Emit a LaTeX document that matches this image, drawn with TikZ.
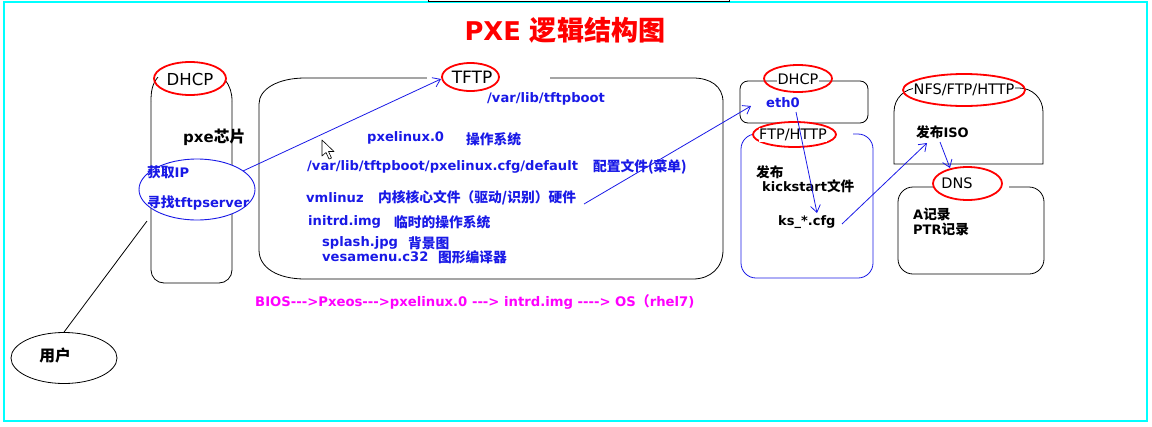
\documentclass[tikz,border=0pt]{standalone}
\usepackage{fontspec}
\setmainfont{DejaVu Sans}
\newfontfamily\cjk[Scale=1.05]{Noto Sans CJK SC}
\newcommand\zhtxt[1]{{\cjk #1}}
\usetikzlibrary{arrows.meta,shapes.geometric}
\definecolor{tblue}{RGB}{25,25,230}
\definecolor{mag}{RGB}{255,0,255}
\definecolor{cyanb}{RGB}{0,255,255}
\begin{document}
\begin{tikzpicture}[x=1pt,y=-1pt,
  every node/.style={inner sep=0pt},
  bt/.style={text=tblue, font=\bfseries\fontsize{13.1}{15}\selectfont, anchor=west},
  kt/.style={text=black, font=\bfseries\fontsize{13}{15}\selectfont, anchor=west},
  lbl/.style={text=black, font=\fontsize{14.5}{16}\selectfont, fill=white, inner sep=0.6pt},
  redell/.style={ellipse, draw=red, line width=1.8pt},
  thinbox/.style={draw=black, line width=0.8pt},
  arr/.style={draw=tblue, line width=0.8pt, -{Straight Barb[length=7pt,width=10pt,line width=0.8pt]}},
  mask/.style={fill=white, draw=none}
]
\useasboundingbox (0,0) rectangle (1152,426);
% frame
\draw[cyanb, line width=2pt] (4,2) rectangle (1147,421);
\draw[black, line width=1pt] (428,-3) rectangle (729,1.2);
% title
\node[text=red, font=\bfseries\fontsize{25.8}{30}\selectfont] (title) at (565,30) {PXE \zhtxt{逻辑结构图}};

% ---------- left DHCP cylinder ----------
\draw[thinbox, rounded corners=13pt] (151,101) -- (151,283) -- (232,283) -- (232,101);
\draw[thinbox] (158,77) .. controls (152,84) and (151,92) .. (151,101);
\draw[thinbox] (225,80) .. controls (230,86) and (232,93) .. (232,101);
\node[redell, minimum width=72pt, minimum height=33pt] (dhcpL) at (190,78.5) {};
\node[lbl, font=\fontsize{16.5}{18}\selectfont] (dhcpLt) at (190,79) {DHCP};
\node[kt, font=\bfseries\fontsize{15}{17}\selectfont] (pxe) at (183,137) {pxe\zhtxt{芯片}};
\node[ellipse, draw=tblue, line width=0.9pt, fill=white, minimum width=116pt, minimum height=61pt] (ipell) at (197,189.5) {};
\node[bt] (getip) at (147,172) {\zhtxt{获取}IP};
\node[bt] (findtftp) at (147,203) {\zhtxt{寻找}tftpserver};
% user
\node[ellipse, draw=black, line width=0.8pt, minimum width=106pt, minimum height=51pt] (user) at (64,358) {};
\node[text=black, font=\bfseries\fontsize{15}{17}\selectfont] (usert) at (55,356) {\zhtxt{用户}};
\coordinate (ipbot) at (147,221);
\draw[thinbox] (ipbot) -- (user.north);

% ---------- TFTP box ----------
\draw[thinbox] (305,78) -- (693,78) .. controls (710,78) and (723,86) .. (723,102)
  -- (723,250) .. controls (723,268) and (710,279) .. (693,279)
  -- (305,279) .. controls (278,279) and (259,268) .. (259,250)
  -- (259,104) .. controls (259,89) and (278,78) .. (305,78) -- cycle;
\fill[mask] (427,70) rectangle (550,86);
\node[redell, minimum width=57pt, minimum height=28pt] (tftpE) at (470.5,77) {};
\node[text=black, font=\fontsize{17}{19}\selectfont] (tftpt) at (472,77) {TFTP};
\node[bt] (t1) at (487,99) {/var/lib/tftpboot};
\node[bt] (t2) at (367,138) {pxelinux.0};
\node[bt] (t2b) at (466,139) {\zhtxt{操作系统}};
\node[bt] (t3) at (307,167) {/var/lib/tftpboot/pxelinux.cfg/default};
\node[bt] (t3b) at (593,167) {\zhtxt{配置文件(菜单)}};
\node[bt] (t4) at (306,198) {vmlinuz};
\node[bt] (t4b) at (378,198) {\zhtxt{内核核心文件（驱动/识别）硬件}};
\node[bt] (t5) at (308,222) {initrd.img};
\node[bt] (t5b) at (394,222) {\zhtxt{临时的操作系统}};
\node[bt] (t6) at (322,243) {splash.jpg};
\node[bt] (t6b) at (408,243) {\zhtxt{背景图}};
\node[bt] (t7) at (322,257) {vesamenu.c32};
\node[bt] (t7b) at (438,257) {\zhtxt{图形编译器}};
% mouse cursor
\draw[black, fill=white, line width=0.6pt, line join=round] (322,140) -- (322,156) -- (326,152.5) -- (329,159) -- (331.5,158) -- (328.5,151.5) -- (334,151.5) -- cycle;

% boot chain
\node[text=mag, font=\bfseries\fontsize{13.2}{15}\selectfont, anchor=west] (chain) at (255,302)
  {BIOS-{}-{}->Pxeos-{}-{}->pxelinux.0 -{}-{}-> intrd.img -{}-{}-{}-> OS\zhtxt{（}rhel7)};

% ---------- right DHCP ----------
\draw[thinbox, rounded corners=8pt] (740,81) rectangle (868,123);
\node[redell, minimum width=68pt, minimum height=27pt] (dhcpR) at (798,78.5) {};
\node[lbl] (dhcpRt) at (798,79) {DHCP};
\node[bt] (eth) at (766,103) {eth0};

% ---------- FTP/HTTP ----------
\draw[draw=tblue, line width=0.8pt, rounded corners=15pt] (741,134) rectangle (873,278);
\fill[mask] (754,128) rectangle (853,140);
\node[redell, fill=white, minimum width=83pt, minimum height=25pt] (ftpE) at (794.5,134.5) {};
\node[lbl] (ftpt) at (793,135) {FTP/HTTP};
\node[kt] (pub) at (756,172) {\zhtxt{发布}};
\node[kt] (ks) at (762,186) {kickstart\zhtxt{文件}};
\node[kt] (kscfg) at (778,222) {ks\_*.cfg};

% ---------- NFS/FTP/HTTP ----------
\draw[thinbox] (894,164) -- (894,112) .. controls (894,98) and (905,88) .. (918,88)
  -- (1019,88) .. controls (1032,88) and (1043,98) .. (1043,112) -- (1043,164) -- cycle;
\node[redell, minimum width=122pt, minimum height=32pt] (nfsE) at (964,90) {};
\node[lbl] (nfst) at (964,90) {NFS/FTP/HTTP};
\node[kt] (iso) at (916,132) {\zhtxt{发布}ISO};

% ---------- DNS ----------
\draw[thinbox, rounded corners=15pt] (898,187) rectangle (1044,274);
\fill[mask] (998,180) rectangle (1009,194);
\node[redell, fill=white, minimum width=69pt, minimum height=33pt] (dnsE) at (967.5,183.5) {};
\node[lbl] (dnst) at (957,183) {DNS};
\node[kt] (arec) at (913,214) {A\zhtxt{记录}};
\node[kt] (ptr) at (913,229) {PTR\zhtxt{记录}};

% ---------- arrows ----------
\coordinate (a1s) at (243,171);
\coordinate (a1e) at (441,79);
\draw[arr] (a1s) -- (a1e);
\coordinate (a2s) at (584,204);
\coordinate (a2e) at (751,106);
\draw[arr] (a2s) -- (a2e);
\coordinate (a3s) at (796,112);
\coordinate (a3e) at (817,213);
\draw[arr] (a3s) -- (a3e);
\coordinate (a4s) at (842,224);
\coordinate (a4e) at (927,143);
\draw[arr] (a4s) -- (a4e);
\coordinate (a5s) at (940,142);
\coordinate (a5e) at (950,168);
\draw[arr] (a5s) -- (a5e);
\end{tikzpicture}
\end{document}
